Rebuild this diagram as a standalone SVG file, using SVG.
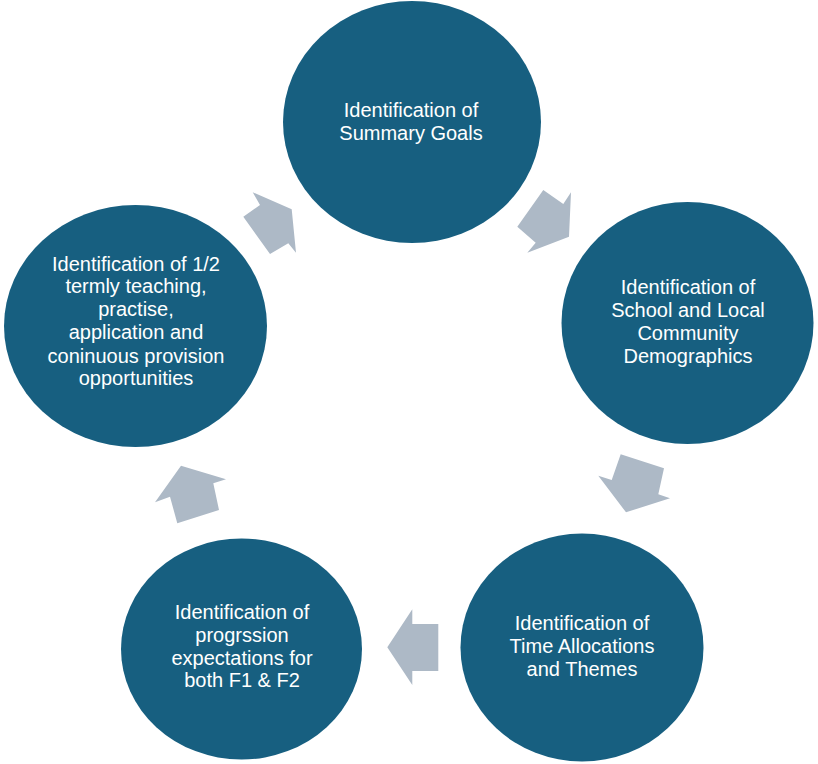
<svg xmlns="http://www.w3.org/2000/svg" width="818" height="764" viewBox="0 0 818 764">
<style>
.node{fill:#175F80;}
.arrow{fill:#ADB9C6;}
.lbl{font-family:"Liberation Sans","Noto Sans",Arial,sans-serif;font-size:20px;fill:#FFFFFF;text-anchor:middle;}
</style>
<rect width="818" height="764" fill="#FFFFFF"/>
<g id="connectors">
<polygon class="arrow" points="543.3,190 563.3,204 571,192.3 569,236.7 527.3,252.7 535.7,242.7 517.3,226.7"/>
<polygon class="arrow" points="620.7,454.3 664,468.3 658.3,494.3 670,498.3 626,512.3 598.3,475.7 611.7,480"/>
<polygon class="arrow" points="412.3,609.3 412.3,624 438.3,624 438.3,671 412.3,671 412.3,685 387.3,647.3"/>
<polygon class="arrow" points="181,465.7 226,479.3 213.3,483.3 219,510 177.3,523.3 170,496.7 155,502.3"/>
<polygon class="arrow" points="243.3,216.7 260,205 252.7,192.3 291.7,209.3 296,252.7 288.3,243.3 270,254"/>
</g>
<g id="node-summary-goals">
<ellipse class="node" cx="412" cy="122" rx="129" ry="121"/>
<text class="lbl" x="411" y="117">Identification of</text>
<text class="lbl" x="411" y="139.5">Summary Goals</text>
</g>
<g id="node-demographics">
<ellipse class="node" cx="687.5" cy="323" rx="126" ry="121"/>
<text class="lbl" x="688" y="294">Identification of</text>
<text class="lbl" x="688" y="316.5">School and Local</text>
<text class="lbl" x="688" y="339.5">Community</text>
<text class="lbl" x="688" y="362.5">Demographics</text>
</g>
<g id="node-time-allocations">
<ellipse class="node" cx="582" cy="647.5" rx="121.5" ry="114"/>
<text class="lbl" x="582" y="630">Identification of</text>
<text class="lbl" x="582" y="653">Time Allocations</text>
<text class="lbl" x="582" y="675.5">and Themes</text>
</g>
<g id="node-progression">
<ellipse class="node" cx="241.5" cy="649" rx="120.5" ry="110.5"/>
<text class="lbl" x="242" y="618.5">Identification of</text>
<text class="lbl" x="242" y="641.5">progrssion</text>
<text class="lbl" x="242" y="664.5">expectations for</text>
<text class="lbl" x="242" y="687">both F1 &amp; F2</text>
</g>
<g id="node-termly">
<ellipse class="node" cx="135.5" cy="326" rx="131.5" ry="121"/>
<text class="lbl" x="136" y="271">Identification of 1/2</text>
<text class="lbl" x="136" y="293">termly teaching,</text>
<text class="lbl" x="136" y="316">practise,</text>
<text class="lbl" x="136" y="339">application and</text>
<text class="lbl" x="136" y="362.5">coninuous provision</text>
<text class="lbl" x="136" y="385">opportunities</text>
</g>
</svg>
